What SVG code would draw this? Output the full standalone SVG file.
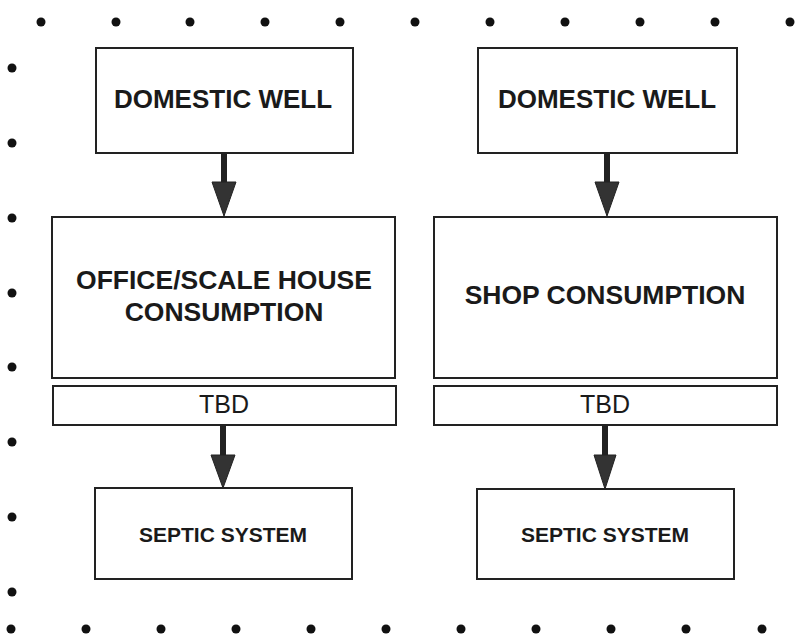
<svg xmlns="http://www.w3.org/2000/svg" width="805" height="638" viewBox="0 0 805 638">
<style>
.box{fill:#fff;stroke:#222;stroke-width:2}
.b{font-family:"Liberation Sans",Arial,sans-serif;font-weight:bold;fill:#1a1a1a;text-anchor:middle}
.r{font-family:"Liberation Sans",Arial,sans-serif;fill:#1a1a1a;text-anchor:middle}
.dot{fill:#111}
.shaft{stroke:#222;stroke-width:6}
.head{fill:#333;stroke:#222;stroke-width:1}
</style>
<rect width="805" height="638" fill="#fff"/>
<g id="dots">
<circle class="dot" cx="41" cy="22" r="4.5"/><circle class="dot" cx="116" cy="22" r="4.5"/><circle class="dot" cx="190" cy="22" r="4.5"/><circle class="dot" cx="265" cy="22" r="4.5"/><circle class="dot" cx="340" cy="22" r="4.5"/><circle class="dot" cx="415" cy="22" r="4.5"/><circle class="dot" cx="490" cy="22" r="4.5"/><circle class="dot" cx="565" cy="22" r="4.5"/><circle class="dot" cx="640" cy="22" r="4.5"/><circle class="dot" cx="715" cy="22" r="4.5"/><circle class="dot" cx="790" cy="22" r="4.5"/>
<circle class="dot" cx="12" cy="68" r="4.5"/><circle class="dot" cx="12" cy="143" r="4.5"/><circle class="dot" cx="12" cy="218" r="4.5"/><circle class="dot" cx="12" cy="293" r="4.5"/><circle class="dot" cx="12" cy="367" r="4.5"/><circle class="dot" cx="12" cy="442" r="4.5"/><circle class="dot" cx="12" cy="517" r="4.5"/><circle class="dot" cx="12" cy="592" r="4.5"/>
<circle class="dot" cx="11" cy="629" r="4.5"/><circle class="dot" cx="86" cy="629" r="4.5"/><circle class="dot" cx="161" cy="629" r="4.5"/><circle class="dot" cx="236" cy="629" r="4.5"/><circle class="dot" cx="311" cy="629" r="4.5"/><circle class="dot" cx="386" cy="629" r="4.5"/><circle class="dot" cx="461" cy="629" r="4.5"/><circle class="dot" cx="536" cy="629" r="4.5"/><circle class="dot" cx="611" cy="629" r="4.5"/><circle class="dot" cx="686" cy="629" r="4.5"/><circle class="dot" cx="762" cy="629" r="4.5"/>
</g>
<g id="well-left"><rect class="box" x="96" y="48" width="257" height="105"/><text class="b" x="223" y="108" font-size="26">DOMESTIC WELL</text></g>
<g id="well-right"><rect class="box" x="478" y="48" width="259" height="105"/><text class="b" x="607" y="108" font-size="26">DOMESTIC WELL</text></g>
<g id="office"><rect class="box" x="52" y="217" width="343" height="161"/><text class="b" x="224" y="289" font-size="26.5">OFFICE/SCALE HOUSE</text><text class="b" x="224" y="321" font-size="26.5">CONSUMPTION</text></g>
<g id="shop"><rect class="box" x="434" y="217" width="343" height="161"/><text class="b" x="605" y="304" font-size="26.5">SHOP CONSUMPTION</text></g>
<g id="tbd-left"><rect class="box" x="53" y="386" width="343" height="39"/><text class="r" x="224" y="413" font-size="25">TBD</text></g>
<g id="tbd-right"><rect class="box" x="434" y="386" width="343" height="39"/><text class="r" x="605" y="413" font-size="25">TBD</text></g>
<g id="septic-left"><rect class="box" x="95" y="488" width="257" height="91"/><text class="b" x="223" y="542" font-size="21">SEPTIC SYSTEM</text></g>
<g id="septic-right"><rect class="box" x="477" y="489" width="257" height="90"/><text class="b" x="605" y="542" font-size="21">SEPTIC SYSTEM</text></g>
<g id="connectors">
<line class="shaft" x1="224" y1="153" x2="224" y2="184"/><polygon class="head" points="212,182 236,182 224,216"/>
<line class="shaft" x1="607" y1="153" x2="607" y2="184"/><polygon class="head" points="595,182 619,182 607,216"/>
<line class="shaft" x1="223" y1="425" x2="223" y2="457"/><polygon class="head" points="211,455 235,455 223,488"/>
<line class="shaft" x1="605" y1="425" x2="605" y2="457"/><polygon class="head" points="594,455 616,455 605,489"/>
</g>
</svg>
